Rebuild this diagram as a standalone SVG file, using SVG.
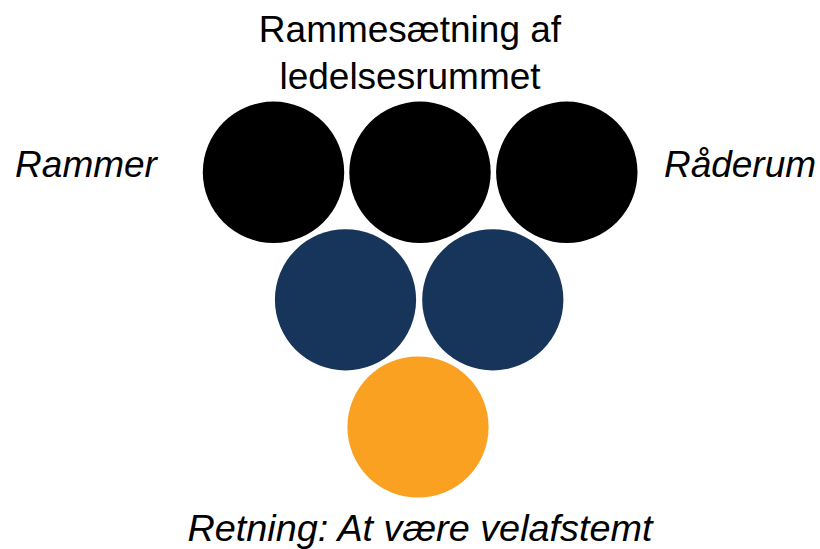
<svg xmlns="http://www.w3.org/2000/svg" width="820" height="549" viewBox="0 0 820 549">
<style>
.t{font-family:"Liberation Sans",Arial,sans-serif;font-size:37px;fill:#000;}
.i{font-style:italic;}
.blk{fill:#000;}
.nav{fill:#17355b;}
.org{fill:#fba122;}
</style>
<rect width="820" height="549" fill="#fff"/>
<g id="title">
<text class="t" x="410" y="42" text-anchor="middle">Rammesætning af</text>
<text class="t" x="410" y="89" text-anchor="middle">ledelsesrummet</text>
</g>
<g id="label-rammer"><text class="t i" x="86" y="177" text-anchor="middle">Rammer</text></g>
<g id="label-raaderum"><text class="t i" x="740" y="177" text-anchor="middle">Råderum</text></g>
<g id="c1"><circle class="blk" cx="273.5" cy="172.3" r="70.7"/></g>
<g id="c2"><circle class="blk" cx="420" cy="172.3" r="70.7"/></g>
<g id="c3"><circle class="blk" cx="566.8" cy="172.3" r="70.7"/></g>
<g id="c4"><circle class="nav" cx="345.5" cy="299.8" r="70.6"/></g>
<g id="c5"><circle class="nav" cx="492.8" cy="299.8" r="70.6"/></g>
<g id="c6"><circle class="org" cx="418" cy="427" r="70.6"/></g>
<g id="connectors"></g>
<g id="label-retning"><text class="t i" x="420" y="541" text-anchor="middle" style="font-size:37.8px">Retning: At være velafstemt</text></g>
</svg>
